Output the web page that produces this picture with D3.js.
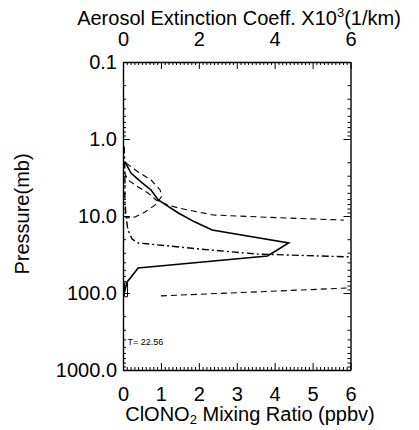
<!DOCTYPE html>
<html>
<head>
<meta charset="utf-8">
<script src="https://cdn.jsdelivr.net/npm/d3@7"></script>
<style>
  html, body { margin: 0; padding: 0; background: #fff; }
  svg { display: block; font-family: "Liberation Sans", Arial, Helvetica, sans-serif; }
</style>
</head>
<body>
<svg id="chart" width="419" height="430"></svg>
<script>
// ---- data (x in ppbv / extinction units, p in mb) ----
const solidX = [0.05, 0.21, 0.48, 0.74, 0.93, 1.46, 1.90, 2.35, 4.37, 3.81, 0.40, 0.11, 0.03];
const solidP = [1.97, 2.77, 3.62, 4.59, 6.19, 9.14, 12.0, 15.2, 22.4, 33.0, 47.3, 71.9, 100];

const dashAX = [0.08, 0.40, 0.74, 0.98, 1.01, 0.85, 0.58, 0.32, 0.08];
const dashAP = [2.05, 2.68, 3.41, 4.59, 5.66, 7.19, 8.87, 10.3, 10.6];

const dashBX = [0.03, 0.13, 0.40, 0.66, 0.87, 1.19, 1.46, 2.38, 3.62, 5.82];
const dashBP = [2.68, 3.41, 4.20, 5.02, 6.19, 7.19, 7.87, 9.70, 10.3, 11.3];

const dashCX = [1.0, 5.95];
const dashCP = [109, 86.1];

const aerosolX = [0.03, 0.05, 0.05, 0.08, 0.13, 0.24, 0.40, 2.04, 3.54, 6.0];
const aerosolP = [1.25, 2.53, 6.19, 10.3, 15.2, 19.9, 22.4, 26.9, 31.2, 34.0];

const errBarX = [0.04, 0.12];
const errBarP = [74, 112];

const pTicks = [0.1, 1, 10, 100, 1000];
const pLabels = ["0.1", "1.0", "10.0", "100.0", "1000.0"];
const bottomTicks = [0, 1, 2, 3, 4, 5, 6];
const topTicks = [0, 2, 4, 6];

const tempLabel = "T= 22.56";

// ---- layout ----
const svg = d3.select("#chart");
const FS = 20;
const L = 123, R = 350.5, T = 62, B = 370;
const x = d3.scaleLinear().domain([0, 6]).range([L, R]);
const y = d3.scaleLog().domain([0.1, 1000]).range([T, B]);

const minorLog = [];
for (let d = 0.1; d < 1000; d *= 10) for (let k = 2; k <= 9; k++) minorLog.push(+(d * k).toPrecision(3));
const minorLin = d3.range(0, 60).map(i => i / 10).filter(v => Math.abs(v - Math.round(v)) > 1e-6);
const allInts = [0,1,2,3,4,5,6];

function styleAxis(g) {
  g.select(".domain").attr("stroke", "#000").attr("stroke-width", 1.4);
  g.selectAll(".tick line").attr("stroke", "#000").attr("stroke-width", 1);
  g.selectAll("text").attr("fill", "#000").attr("font-size", FS).attr("font-family", "Liberation Sans, Arial, sans-serif");
}

// bottom axis
const gb = svg.append("g").attr("transform", `translate(0,${B})`)
  .call(d3.axisBottom(x).tickValues(bottomTicks).tickFormat(d3.format("d")).tickSizeInner(-7).tickSizeOuter(0).tickPadding(17));
styleAxis(gb);
const gbm = svg.append("g").attr("transform", `translate(0,${B})`)
  .call(d3.axisBottom(x).tickValues(minorLin).tickFormat("").tickSizeInner(-3).tickSizeOuter(0));
gbm.select(".domain").remove(); gbm.selectAll(".tick line").attr("stroke", "#000");

// top axis
const gt = svg.append("g").attr("transform", `translate(0,${T})`)
  .call(d3.axisTop(x).tickValues(topTicks).tickFormat(d3.format("d")).tickSizeInner(0).tickSizeOuter(0).tickPadding(16));
styleAxis(gt);
const gtm = svg.append("g").attr("transform", `translate(0,${T})`)
  .call(d3.axisTop(x).tickValues(allInts).tickFormat("").tickSizeInner(-7).tickSizeOuter(0));
gtm.select(".domain").remove(); gtm.selectAll(".tick line").attr("stroke", "#000");
const gtm2 = svg.append("g").attr("transform", `translate(0,${T})`)
  .call(d3.axisTop(x).tickValues(minorLin).tickFormat("").tickSizeInner(-3).tickSizeOuter(0));
gtm2.select(".domain").remove(); gtm2.selectAll(".tick line").attr("stroke", "#000");

// left axis
const gl = svg.append("g").attr("transform", `translate(${L},0)`)
  .call(d3.axisLeft(y).tickValues(pTicks).tickFormat((d, i) => pLabels[i]).tickSizeInner(-7).tickSizeOuter(0).tickPadding(6));
styleAxis(gl);
const glm = svg.append("g").attr("transform", `translate(${L},0)`)
  .call(d3.axisLeft(y).tickValues(minorLog).tickFormat("").tickSizeInner(-3).tickSizeOuter(0));
glm.select(".domain").remove(); glm.selectAll(".tick line").attr("stroke", "#000");

// right axis
const gr = svg.append("g").attr("transform", `translate(${R},0)`)
  .call(d3.axisRight(y).tickValues(pTicks).tickFormat("").tickSizeInner(-7).tickSizeOuter(0));
styleAxis(gr);
const grm = svg.append("g").attr("transform", `translate(${R},0)`)
  .call(d3.axisRight(y).tickValues(minorLog).tickFormat("").tickSizeInner(-3).tickSizeOuter(0));
grm.select(".domain").remove(); grm.selectAll(".tick line").attr("stroke", "#000");

// curves
const line = d3.line().x(d => x(d[0])).y(d => y(d[1])).curve(d3.curveLinear);
function drawCurve(xs, ps, dash, w) {
  svg.append("path")
    .datum(xs.map((v, i) => [v, ps[i]]))
    .attr("d", line)
    .attr("fill", "none")
    .attr("stroke", "#000")
    .attr("stroke-width", w)
    .attr("stroke-dasharray", dash);
}
drawCurve(solidX, solidP, null, 1.6);
drawCurve(dashAX, dashAP, "6,4", 1.1);
drawCurve(dashBX, dashBP, "6,4", 1.1);
drawCurve(dashCX, dashCP, "6,4", 1.1);
drawCurve(aerosolX, aerosolP, "7,3,2,3", 1.4);

// small error bar near the bottom of the profile
errBarX.forEach(v => {
  svg.append("line").attr("x1", x(v)).attr("x2", x(v)).attr("y1", y(errBarP[0])).attr("y2", y(errBarP[1]))
    .attr("stroke", "#000").attr("stroke-width", 1);
});
errBarP.forEach(p => {
  svg.append("line").attr("x1", x(errBarX[0])).attr("x2", x(errBarX[1])).attr("y1", y(p)).attr("y2", y(p))
    .attr("stroke", "#000").attr("stroke-width", 1);
});

// texts
svg.append("text").attr("x", x(0.12)).attr("y", 345).attr("font-size", 9).text(tempLabel);

const topTitle = svg.append("text").attr("x", 239).attr("y", 25).attr("text-anchor", "middle").attr("font-size", FS);
topTitle.append("tspan").text("Aerosol Extinction Coeff. X10");
topTitle.append("tspan").attr("dy", -8).attr("font-size", 13).text("3");
topTitle.append("tspan").attr("dy", 8).text("(1/km)");

const botTitle = svg.append("text").attr("x", 250).attr("y", 421).attr("text-anchor", "middle").attr("font-size", FS);
botTitle.append("tspan").text("ClONO");
botTitle.append("tspan").attr("dy", 3).attr("font-size", 13).text("2");
botTitle.append("tspan").attr("dy", -3).text(" Mixing Ratio (ppbv)");

svg.append("text").attr("transform", `translate(29,214) rotate(-90)`).attr("text-anchor", "middle")
  .attr("font-size", FS).text("Pressure(mb)");
</script>
</body>
</html>
